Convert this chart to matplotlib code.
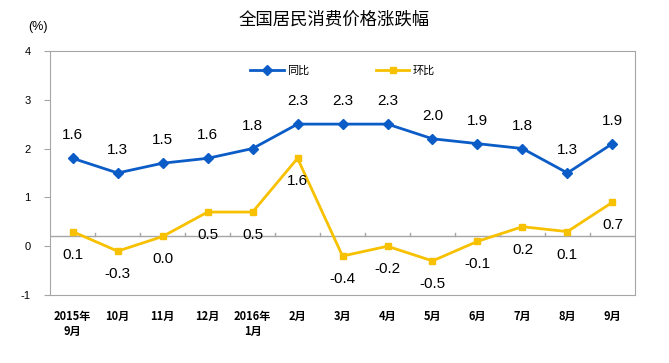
import matplotlib.pyplot as plt

plt.rcParams['font.family'] = ['Noto Sans CJK SC', 'DejaVu Sans']

# data
months = ['2015年\n9月', '10月', '11月', '12月', '2016年\n1月', '2月', '3月',
          '4月', '5月', '6月', '7月', '8月', '9月']
yoy = [1.6, 1.3, 1.5, 1.6, 1.8, 2.3, 2.3, 2.3, 2.0, 1.9, 1.8, 1.3, 1.9]   # 同比
mom = [0.1, -0.3, 0.0, 0.5, 0.5, 1.6, -0.4, -0.2, -0.5, -0.1, 0.2, 0.1, 0.7]  # 环比
base = 0.2   # the original chart draws its zero line 0.2 above the "0" tick

blue = '#0b5cc6'
yellow = '#f7c100'

fig = plt.figure(figsize=(6.69, 3.63), dpi=100)
ax = fig.add_axes([0.075, 0.187, 0.874, 0.673])

x = list(range(len(months)))
ax.plot(x, [v + base for v in yoy], color=blue, lw=2, marker='D', ms=5, label='同比')
ax.plot(x, [v + base for v in mom], color=yellow, lw=2, marker='s', ms=5, label='环比')

for i in x:
    ax.annotate('%.1f' % yoy[i], (i, yoy[i] + base), xytext=(0, 16.5), textcoords='offset points',
                ha='center', va='center', fontsize=11, family='Liberation Sans')
    ax.annotate('%.1f' % mom[i], (i, mom[i] + base), xytext=(0, -16.5), textcoords='offset points',
                ha='center', va='center', fontsize=11, family='Liberation Sans')

# zero line with upward ticks at category borders
ax.axhline(base, color='#a6a6a6', lw=1, zorder=1)
for k in range(1, len(months)):
    ax.plot([k - 0.5, k - 0.5], [base, base + 0.08], color='#a6a6a6', lw=1, zorder=1)

ax.set_xlim(-0.5, len(months) - 0.5)
ax.set_ylim(-1, 4)
ax.set_yticks([-1, 0, 1, 2, 3, 4])
ax.set_yticklabels(['-1', '0', '1', '2', '3', '4'], family='Liberation Sans', fontsize=8)
ax.tick_params(axis='y', length=4, color='#a6a6a6', pad=10)
ax.set_xticks(x)
ax.set_xticklabels(months, fontsize=8, fontweight='bold', linespacing=1.2)
ax.tick_params(axis='x', length=0, pad=11)
for s in ax.spines.values():
    s.set_color('#a6a6a6')

ax.legend(loc='center', bbox_to_anchor=(0.5, 0.92), ncol=2, frameon=False, fontsize=8,
          handlelength=3, columnspacing=6, handletextpad=0.3)

fig.text(0.5, 0.945, '全国居民消费价格涨跌幅', ha='center', va='center', fontsize=12.5)
fig.text(0.057, 0.925, '(%)', ha='center', va='center', fontsize=9, family='Liberation Sans')

plt.savefig('out.png', dpi=100)
